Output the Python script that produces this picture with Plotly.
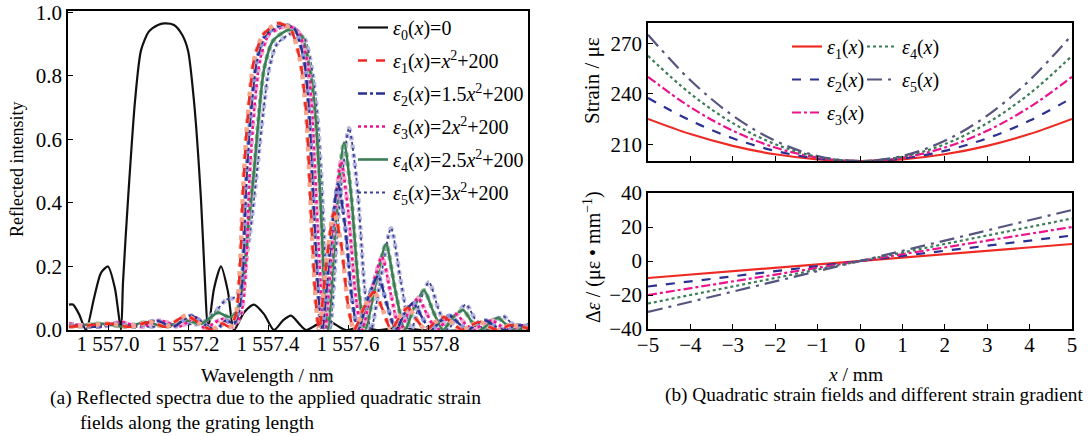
import plotly.graph_objects as go

# ---------------- data: panel (a) reflected spectra ----------------
wl0 = [1556.9025, 1556.9125, 1556.9275, 1556.945, 1556.965, 1556.9825, 1557.0, 1557.0175, 1557.0325,
       1557.0375, 1557.05, 1557.0675, 1557.0825, 1557.1025, 1557.125, 1557.14, 1557.165, 1557.185,
       1557.20, 1557.215, 1557.2325, 1557.2425, 1557.25, 1557.265, 1557.2825, 1557.30, 1557.315,
       1557.34, 1557.365, 1557.39, 1557.415, 1557.4375, 1557.4575, 1557.4775, 1557.495, 1557.5275,
       1557.5575, 1557.5775, 1557.595, 1557.6325, 1557.6725, 1557.7325, 1557.7825, 1558.0525]
r0 = [0.08, 0.08, 0.05, 0.0, 0.10, 0.18, 0.20, 0.13, 0.0,
      0.15, 0.41, 0.72, 0.88, 0.94, 0.96, 0.965, 0.96, 0.93,
      0.88, 0.72, 0.41, 0.15, 0.0, 0.13, 0.20, 0.12, 0.0,
      0.055, 0.08, 0.05, 0.0, 0.03, 0.045, 0.02, 0.0, 0.02,
      0.025, 0.01, 0.0, 0.01, 0.0, 0.008, 0.0, 0.0]

wl1 = [1556.9025, 1556.955, 1557.005, 1557.055, 1557.105, 1557.145, 1557.195, 1557.23, 1557.26, 1557.285,
       1557.305, 1557.32, 1557.33, 1557.338, 1557.348, 1557.365, 1557.388, 1557.425, 1557.455, 1557.48,
       1557.495, 1557.503, 1557.51, 1557.52, 1557.528, 1557.545, 1557.565, 1557.583, 1557.60, 1557.615,
       1557.64, 1557.665, 1557.688, 1557.708, 1557.728, 1557.75, 1557.773, 1557.795, 1557.818, 1557.84,
       1557.863, 1557.885, 1557.908, 1557.93, 1557.953, 1557.975, 1558.005, 1558.05]
r1 = [0.01, 0.015, 0.02, 0.01, 0.025, 0.01, 0.045, 0.02, 0.0, 0.02,
      0.01, 0.05, 0.2, 0.45, 0.65, 0.85, 0.93, 0.965, 0.95, 0.85,
      0.69, 0.5, 0.3, 0.08, 0.0, 0.2, 0.37, 0.27, 0.08, 0.0,
      0.07, 0.12, 0.06, 0.0, 0.04, 0.07, 0.03, 0.0, 0.025, 0.04,
      0.02, 0.0, 0.015, 0.025, 0.01, 0.0, 0.015, 0.005]

wl2 = [1556.9025, 1556.97, 1557.02, 1557.07, 1557.12, 1557.1625, 1557.2075, 1557.245, 1557.27, 1557.295,
       1557.315, 1557.3275, 1557.3375, 1557.345, 1557.355, 1557.3725, 1557.395, 1557.435, 1557.465, 1557.49,
       1557.5025, 1557.51, 1557.5175, 1557.5275, 1557.535, 1557.555, 1557.575, 1557.5925, 1557.61, 1557.625,
       1557.65, 1557.675, 1557.6975, 1557.72, 1557.74, 1557.7625, 1557.785, 1557.8075, 1557.8325, 1557.855,
       1557.8775, 1557.90, 1557.9225, 1557.945, 1557.9675, 1557.99, 1558.02, 1558.0525]
r2 = [0.015, 0.01, 0.02, 0.01, 0.03, 0.01, 0.045, 0.015, 0.0, 0.03,
      0.02, 0.06, 0.2, 0.45, 0.65, 0.85, 0.93, 0.96, 0.95, 0.85,
      0.69, 0.5, 0.3, 0.08, 0.0, 0.25, 0.46, 0.33, 0.10, 0.0,
      0.10, 0.17, 0.08, 0.0, 0.05, 0.085, 0.04, 0.0, 0.03, 0.045,
      0.02, 0.0, 0.02, 0.03, 0.012, 0.0, 0.015, 0.01]

wl3 = [1556.9025, 1556.9825, 1557.0325, 1557.0825, 1557.1325, 1557.1775, 1557.22, 1557.245, 1557.2625, 1557.2875,
       1557.3125, 1557.3325, 1557.345, 1557.3525, 1557.3625, 1557.38, 1557.4025, 1557.4425, 1557.4725, 1557.4975,
       1557.51, 1557.5175, 1557.525, 1557.535, 1557.5425, 1557.5625, 1557.5825, 1557.60, 1557.62, 1557.635,
       1557.66, 1557.685, 1557.7075, 1557.73, 1557.7525, 1557.775, 1557.7975, 1557.8225, 1557.8475, 1557.87,
       1557.8925, 1557.915, 1557.9375, 1557.96, 1557.9825, 1558.005, 1558.0325, 1558.0525]
r3 = [0.02, 0.01, 0.025, 0.01, 0.03, 0.01, 0.04, 0.0, 0.02, 0.035,
      0.01, 0.05, 0.2, 0.45, 0.65, 0.85, 0.93, 0.955, 0.945, 0.85,
      0.69, 0.5, 0.3, 0.08, 0.0, 0.3, 0.53, 0.38, 0.10, 0.0,
      0.13, 0.23, 0.11, 0.0, 0.06, 0.10, 0.05, 0.0, 0.035, 0.05,
      0.02, 0.0, 0.02, 0.03, 0.012, 0.0, 0.015, 0.01]

wl4 = [1556.9025, 1556.9825, 1557.045, 1557.095, 1557.145, 1557.195, 1557.2325, 1557.2575, 1557.275, 1557.2925,
       1557.3075, 1557.3225, 1557.3375, 1557.3525, 1557.365, 1557.3775, 1557.39, 1557.4125, 1557.4525, 1557.4825,
       1557.5075, 1557.52, 1557.5275, 1557.535, 1557.5425, 1557.55, 1557.57, 1557.59, 1557.6075, 1557.6275,
       1557.6425, 1557.67, 1557.695, 1557.7175, 1557.7425, 1557.765, 1557.79, 1557.8125, 1557.8375, 1557.8625,
       1557.8875, 1557.91, 1557.9325, 1557.955, 1557.975, 1557.9975, 1558.02, 1558.0525]
r4 = [0.01, 0.02, 0.01, 0.025, 0.01, 0.03, 0.02, 0.04, 0.055, 0.045,
      0.04, 0.06, 0.15, 0.35, 0.5, 0.68, 0.82, 0.91, 0.945, 0.93,
      0.8, 0.65, 0.5, 0.3, 0.08, 0.0, 0.35, 0.59, 0.43, 0.12,
      0.0, 0.15, 0.27, 0.13, 0.0, 0.07, 0.125, 0.06, 0.0, 0.04,
      0.063, 0.025, 0.0, 0.025, 0.038, 0.015, 0.0, 0.02]

wl5 = [1556.9025, 1556.97, 1557.0325, 1557.1075, 1557.17, 1557.2325, 1557.27, 1557.295, 1557.3125, 1557.3275,
       1557.3425, 1557.3575, 1557.3725, 1557.3875, 1557.4025, 1557.4225, 1557.4625, 1557.49, 1557.5125, 1557.525,
       1557.5325, 1557.54, 1557.5475, 1557.555, 1557.5775, 1557.6025, 1557.6225, 1557.6425, 1557.6575, 1557.6825,
       1557.7075, 1557.7325, 1557.7575, 1557.78, 1557.8025, 1557.825, 1557.85, 1557.8725, 1557.895, 1557.9175,
       1557.9425, 1557.965, 1557.9875, 1558.01, 1558.0325, 1558.0525]
r5 = [0.015, 0.01, 0.02, 0.01, 0.02, 0.02, 0.06, 0.095, 0.10, 0.12,
      0.2, 0.33, 0.5, 0.68, 0.82, 0.9, 0.935, 0.92, 0.8, 0.65,
      0.5, 0.3, 0.08, 0.0, 0.38, 0.635, 0.46, 0.12, 0.0, 0.17,
      0.32, 0.15, 0.0, 0.09, 0.15, 0.07, 0.0, 0.05, 0.08, 0.035,
      0.0, 0.03, 0.044, 0.02, 0.0, 0.02]

wl_ticks = [1557.0, 1557.2, 1557.4, 1557.6, 1557.8]
wl_ticktext = ["1 557.0", "1 557.2", "1 557.4", "1 557.6", "1 557.8"]
int_ticks = [0.0, 0.2, 0.4, 0.6, 0.8, 1.0]
int_ticktext = ["0.0", "0.2", "0.4", "0.6", "0.8", "1.0"]

# ---------------- data: panel (b) strain fields and gradients ----------------
xpos = [-5, -4, -3, -2, -1, 0, 1, 2, 3, 4, 5]
strain1 = [225, 216, 209, 204, 201, 200, 201, 204, 209, 216, 225]
strain2 = [237.5, 224, 213.5, 206, 201.5, 200, 201.5, 206, 213.5, 224, 237.5]
strain3 = [250, 232, 218, 208, 202, 200, 202, 208, 218, 232, 250]
strain4 = [262.5, 240, 222.5, 210, 202.5, 200, 202.5, 210, 222.5, 240, 262.5]
strain5 = [275, 248, 227, 212, 203, 200, 203, 212, 227, 248, 275]

xgrad = [-5, 5]
grad1 = [-10, 10]
grad2 = [-15, 15]
grad3 = [-20, 20]
grad4 = [-25, 25]
grad5 = [-30, 30]

FONT = "Liberation Serif"
W, H = 1092, 436


def px(x):
    return x / W


def py(y):
    return 1 - y / H


fig = go.Figure()

# ----- panel (a) -----
names_a = [
    "<i>ε</i><sub>0</sub>(<i>x</i>)=0",
    "<i>ε</i><sub>1</sub>(<i>x</i>)=<i>x</i><sup>2</sup>+200",
    "<i>ε</i><sub>2</sub>(<i>x</i>)=1.5<i>x</i><sup>2</sup>+200",
    "<i>ε</i><sub>3</sub>(<i>x</i>)=2<i>x</i><sup>2</sup>+200",
    "<i>ε</i><sub>4</sub>(<i>x</i>)=2.5<i>x</i><sup>2</sup>+200",
    "<i>ε</i><sub>5</sub>(<i>x</i>)=3<i>x</i><sup>2</sup>+200",
]
series_a = [(wl0, r0), (wl1, r1), (wl2, r2), (wl3, r3), (wl4, r4), (wl5, r5)]
dark = ["#111111", "#ee2a24", "#2b3190", "#ec138c", "#3b7d55", "#3d3f8f"]
pale = [None, "#f7a58a", "#8e98d6", "#f6a6cf", "#9cc4a8", "#b9b9df"]
dashes = ["solid", "dash", "dashdot", "dot", "solid", "dot"]
widths = [2.2, 2.6, 2.4, 2.6, 2.6, 1.8]

order = [0, 5, 4, 3, 2, 1]
for i in order:
    xs, ys = series_a[i]
    if pale[i]:
        fig.add_trace(go.Scatter(
            x=xs, y=ys, mode="lines", line=dict(color=pale[i], width=4.5, dash="dot",
                                                shape="spline", smoothing=0.7),
            showlegend=False, hoverinfo="skip", xaxis="x", yaxis="y"))
    fig.add_trace(go.Scatter(
        x=xs, y=ys, mode="lines", name=names_a[i],
        line=dict(color=dark[i], width=widths[i], dash=dashes[i], shape="spline", smoothing=0.7),
        legend="legend", legendrank=i + 1, legendgroup="a%d" % i,
        xaxis="x", yaxis="y"))

# ----- panel (b) -----
cols_b = ["#ee2a24", "#2b3190", "#ec138c", "#3b7d55", "#55557f"]
dash_b = ["solid", "dash", "dashdot", "dot", "longdashdot"]
strains = [strain1, strain2, strain3, strain4, strain5]
names_b = ["<i>ε</i><sub>1</sub>(<i>x</i>)", "<i>ε</i><sub>2</sub>(<i>x</i>)",
           "<i>ε</i><sub>3</sub>(<i>x</i>)", "<i>ε</i><sub>4</sub>(<i>x</i>)",
           "<i>ε</i><sub>5</sub>(<i>x</i>)"]
legs = ["legend2", "legend2", "legend2", "legend3", "legend3"]
for k in range(5):
    fig.add_trace(go.Scatter(
        x=xpos, y=strains[k], mode="lines", name=names_b[k],
        line=dict(color=cols_b[k], width=2.2, dash=dash_b[k], shape="spline"),
        legend=legs[k], legendrank=k + 1, legendgroup="b%d" % k,
        xaxis="x2", yaxis="y2"))

grads = [grad1, grad2, grad3, grad4, grad5]
for k in range(5):
    fig.add_trace(go.Scatter(
        x=xgrad, y=grads[k], mode="lines", showlegend=False,
        line=dict(color=cols_b[k], width=2.2, dash=dash_b[k]),
        xaxis="x3", yaxis="y3"))

axis_common = dict(showline=True, linecolor="black", linewidth=1.5, mirror=True,
                   ticks="inside", ticklen=5, tickwidth=1.2, tickcolor="black",
                   showgrid=False, zeroline=False, automargin=False,
                   tickfont=dict(family=FONT, size=21, color="black"))


def note(text, x, y, size=19.5, angle=0, xanchor="center"):
    return dict(text=text, x=px(x), y=py(y), xref="paper", yref="paper",
                xanchor=xanchor, yanchor="middle", showarrow=False, textangle=angle,
                font=dict(family=FONT, size=size, color="black"))


fig.update_layout(
    template="none",
    width=W, height=H,
    margin=dict(l=0, r=0, t=0, b=0, autoexpand=False),
    paper_bgcolor="white", plot_bgcolor="white",
    font=dict(family=FONT, size=18, color="black"),
    xaxis=dict(domain=[px(68), px(528)], range=[1556.9, 1558.05], anchor="y",
               tickvals=wl_ticks, ticktext=wl_ticktext, ticklabelstandoff=-6, **axis_common),
    yaxis=dict(domain=[py(330), py(11)], range=[0, 1.004], anchor="x",
               tickvals=int_ticks, ticktext=int_ticktext, **axis_common),
    xaxis2=dict(domain=[px(648), px(1072)], range=[-5, 5], anchor="y2",
                tickvals=[-5, -4, -3, -2, -1, 0, 1, 2, 3, 4, 5], showticklabels=False,
                **axis_common),
    yaxis2=dict(domain=[py(161), py(23)], range=[200, 282], anchor="x2",
                tickvals=[210, 240, 270], **axis_common),
    xaxis3=dict(domain=[px(648), px(1072)], range=[-5, 5], anchor="y3",
                tickvals=[-5, -4, -3, -2, -1, 0, 1, 2, 3, 4, 5], ticklabelstandoff=-4,
                **axis_common),
    yaxis3=dict(domain=[py(329), py(193)], range=[-40, 40], anchor="x3",
                tickvals=[-40, -20, 0, 20, 40], **axis_common),
    legend=dict(x=px(353), y=py(8), xanchor="left", yanchor="top",
                bgcolor="rgba(0,0,0,0)", font=dict(family=FONT, size=20),
                tracegroupgap=4, itemwidth=30),
    legend2=dict(x=px(787), y=py(27), xanchor="left", yanchor="top",
                 bgcolor="rgba(0,0,0,0)", font=dict(family=FONT, size=20),
                 tracegroupgap=4, itemwidth=30),
    legend3=dict(x=px(862), y=py(27), xanchor="left", yanchor="top",
                 bgcolor="rgba(0,0,0,0)", font=dict(family=FONT, size=20),
                 tracegroupgap=4, itemwidth=30),
    annotations=[
        note("Reflected intensity", 17, 170, size=18, angle=-90),
        note("Wavelength / nm", 267, 375),
        note("Strain / με", 592, 81, size=21, angle=-90),
        note("Δ<i>ε</i> / (με • mm<sup>−1</sup>)", 592, 257, size=20, angle=-90),
        note("<i>x</i> / mm", 855, 374),
        note("(a) Reflected spectra due to the applied quadratic strain", 48, 398, xanchor="left"),
        note("fields along the grating length", 78, 422, xanchor="left"),
        note("(b) Quadratic strain fields and different strain gradient", 663, 395, size=19.3,
             xanchor="left"),
    ],
)

fig.write_html("out.html",
               post_script="document.body.style.margin='0';document.body.style.overflow='hidden';")
